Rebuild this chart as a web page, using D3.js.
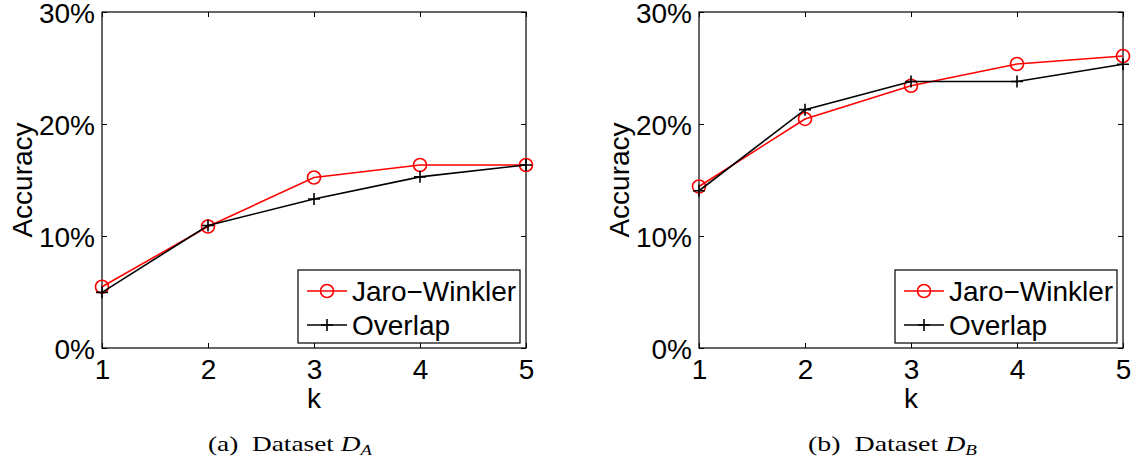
<!DOCTYPE html>
<html>
<head>
<meta charset="utf-8">
<script src="https://cdn.jsdelivr.net/npm/d3@7"></script>
<style>
  html, body { margin: 0; padding: 0; background: #fff; }
  svg { display: block; }
</style>
</head>
<body>
<svg id="chart" width="1135" height="460"></svg>
<script>
// ---- data ----
const kValues = [1, 2, 3, 4, 5];
const yTicks = [0, 10, 20, 30];
const seriesNames = ["Jaro\u2212Winkler", "Overlap"];
const jaroA = [5.47, 10.85, 15.22, 16.34, 16.34];
const overlapA = [4.97, 10.94, 13.30, 15.28, 16.34];
const jaroB = [14.42, 20.45, 23.41, 25.36, 26.07];
const overlapB = [14.04, 21.28, 23.79, 23.79, 25.33];
const captionLetters = ["(a)", "(b)"];
const captionSubs = ["A", "B"];

(function () {
const svg = d3.select("#chart");
const FONT = "'Liberation Sans', Arial, Helvetica, sans-serif";
const FS = 28;

const panels = [
  { left: 102, jw: jaroA, ov: overlapA, cap: captionLetters[0], sub: captionSubs[0], capL: 208, capR: 373 },
  { left: 699, jw: jaroB, ov: overlapB, cap: captionLetters[1], sub: captionSubs[1], capL: 808, capR: 977 }
];

const T = 12, W = 424, H = 336;

panels.forEach(p => {
  const x = d3.scaleLinear().domain([1, 5]).range([p.left, p.left + W]);
  const y = d3.scaleLinear().domain([0, 30]).range([T + H, T]);
  const g = svg.append("g");

  g.append("rect")
    .attr("x", p.left).attr("y", T).attr("width", W).attr("height", H)
    .attr("fill", "none").attr("stroke", "#000").attr("stroke-width", 1.2);

  const xb = g.append("g").attr("transform", `translate(0,${T + H})`)
    .call(d3.axisBottom(x).tickValues(kValues).tickFormat(d3.format("d")).tickSize(-5).tickPadding(11));
  const xt = g.append("g").attr("transform", `translate(0,${T})`)
    .call(d3.axisTop(x).tickValues(kValues).tickFormat("").tickSize(-5));
  const yl = g.append("g").attr("transform", `translate(${p.left},0)`)
    .call(d3.axisLeft(y).tickValues(yTicks).tickFormat(d => d + "%").tickSize(-5).tickPadding(7));
  const yr = g.append("g").attr("transform", `translate(${p.left + W},0)`)
    .call(d3.axisRight(y).tickValues(yTicks).tickFormat("").tickSize(-5));
  [xb, xt, yl, yr].forEach(a => {
    a.select(".domain").remove();
    a.selectAll(".tick line").attr("stroke", "#000").attr("stroke-width", 1);
    a.selectAll(".tick text").attr("font-family", FONT).attr("font-size", FS).attr("fill", "#000");
  });
  yl.selectAll(".tick text").attr("dy", "0.36em");
  xb.selectAll(".tick text").attr("dy", "0.71em");

  g.append("text").attr("x", p.left + W / 2).attr("y", 408)
    .attr("text-anchor", "middle").attr("font-family", FONT).attr("font-size", FS).text("k");
  g.append("text")
    .attr("transform", `translate(${p.left - 70},${T + H / 2}) rotate(-90)`)
    .attr("text-anchor", "middle").attr("font-family", FONT).attr("font-size", FS).text("Accuracy");

  const line = d3.line().x((d, i) => x(kValues[i])).y(d => y(d));

  g.append("path").datum(p.jw).attr("d", line)
    .attr("fill", "none").attr("stroke", "#ff0000").attr("stroke-width", 1.6);
  g.selectAll(".jw").data(p.jw).enter().append("circle")
    .attr("cx", (d, i) => x(kValues[i])).attr("cy", d => y(d)).attr("r", 6.5)
    .attr("fill", "none").attr("stroke", "#ff0000").attr("stroke-width", 1.6);

  g.append("path").datum(p.ov).attr("d", line)
    .attr("fill", "none").attr("stroke", "#000").attr("stroke-width", 1.6);
  g.selectAll(".ov").data(p.ov).enter().append("path")
    .attr("d", (d, i) => `M${x(kValues[i]) - 6},${y(d)}H${x(kValues[i]) + 6}M${x(kValues[i])},${y(d) - 6}V${y(d) + 6}`)
    .attr("fill", "none").attr("stroke", "#000").attr("stroke-width", 1.6);

  const lx = p.left + 196, ly = 270, lw = 222, lh = 73;
  const lg = g.append("g");
  lg.append("rect").attr("x", lx).attr("y", ly).attr("width", lw).attr("height", lh)
    .attr("fill", "#fff").attr("stroke", "#000").attr("stroke-width", 1.2);
  const rows = [ { name: seriesNames[0], color: "#ff0000", mk: "circle", yy: ly + 21 },
                 { name: seriesNames[1], color: "#000", mk: "plus", yy: ly + 55 } ];
  rows.forEach(r => {
    lg.append("line").attr("x1", lx + 9).attr("x2", lx + 49).attr("y1", r.yy).attr("y2", r.yy)
      .attr("stroke", r.color).attr("stroke-width", 1.6);
    const cx = lx + 29;
    if (r.mk === "circle") {
      lg.append("circle").attr("cx", cx).attr("cy", r.yy).attr("r", 6.5)
        .attr("fill", "none").attr("stroke", r.color).attr("stroke-width", 1.6);
    } else {
      lg.append("path").attr("d", `M${cx - 6},${r.yy}H${cx + 6}M${cx},${r.yy - 6}V${r.yy + 6}`)
        .attr("stroke", r.color).attr("stroke-width", 1.6);
    }
    lg.append("text").attr("x", lx + 54).attr("y", r.yy).attr("dy", "0.36em")
      .attr("font-family", FONT).attr("font-size", FS).text(r.name);
  });

  const cap = svg.append("text").attr("y", 451)
    .attr("font-family", "'Liberation Serif', 'DejaVu Serif', serif").attr("font-size", 22).attr("fill", "#000");
  cap.append("tspan").text(p.cap + "\u2002Dataset ");
  cap.append("tspan").attr("font-style", "italic").text("D");
  cap.append("tspan").attr("font-style", "italic").attr("font-size", 15).attr("dy", 4).text(p.sub);
  const bb = cap.node().getBBox();
  const sx = (p.capR - p.capL) / bb.width;
  cap.attr("transform", `translate(${p.capL},0) scale(${sx},1) translate(${-bb.x},0)`);
});
})();
</script>
</body>
</html>
